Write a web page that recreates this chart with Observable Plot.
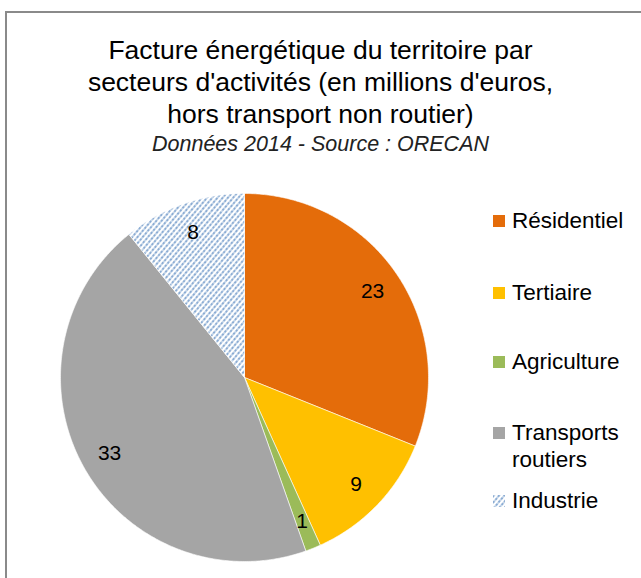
<!DOCTYPE html>
<html>
<head>
<meta charset="utf-8">
<script src="https://cdn.jsdelivr.net/npm/d3@7"></script>
<script src="https://cdn.jsdelivr.net/npm/@observablehq/plot@0.6"></script>
<style>
  html, body { margin: 0; padding: 0; background: #fff; }
  #wrap { position: relative; width: 641px; height: 578px; overflow: hidden;
          font-family: "Liberation Sans", Arial, sans-serif; color: #000; }
  #frame { position: absolute; left: 5px; top: 11px; width: 700px; height: 700px;
           border-top: 2px solid #8a8a8a; border-left: 2px solid #8a8a8a; }
  #title { position: absolute; left: 0; width: 641px; top: 34px; text-align: center;
           font-size: 26.5px; line-height: 32px; }
  #subtitle { position: absolute; left: 0; width: 641px; top: 132px; text-align: center;
              font-size: 21.5px; font-style: italic; color: #222; }
  #chart { position: absolute; left: 0; top: 0; }
  .leg { position: absolute; left: 493px; font-size: 22.5px; line-height: 27px; }
  .leg .sw { position: absolute; left: 0; width: 12px; height: 12px; top: 8px; }
  .leg .tx { position: absolute; left: 19px; white-space: nowrap; }
</style>
</head>
<body>
<div id="wrap">
  <div id="frame"></div>
  <div id="title">Facture énergétique du territoire par<br>secteurs d'activités (en millions d'euros,<br>hors transport non routier)</div>
  <div id="subtitle">Données 2014 - Source : ORECAN</div>
  <div id="chart"></div>
  <div id="legend"></div>
</div>
<script>
const sectors = ["Résidentiel", "Tertiaire", "Agriculture", "Transports routiers", "Industrie"];
const values = [23, 9, 1, 33, 8];
const colors = ["#E46C0A", "#FFC000", "#9BBB59", "#A5A5A5", "url(#hatch)"];
const legendLabels = ["Résidentiel", "Tertiaire", "Agriculture", "Transports<br>routiers", "Industrie"];

const data = sectors.map((s, i) => ({sector: s, value: values[i]}));
const arcs = d3.pie().sort(null).value(d => d.value)(data);

// polygon outlines of each slice in unit coordinates
const poly = [];
for (const a of arcs) {
  const s = a.data.sector;
  poly.push({sector: s, x: 0, y: 0});
  const n = Math.max(2, Math.ceil((a.endAngle - a.startAngle) / 0.01));
  for (let k = 0; k <= n; k++) {
    const t = a.startAngle + (a.endAngle - a.startAngle) * k / n;
    poly.push({sector: s, x: Math.sin(t), y: Math.cos(t)});
  }
  poly.push({sector: s, x: 0, y: 0});
}
const labels = arcs.map(a => {
  const m = (a.startAngle + a.endAngle) / 2;
  return {sector: a.data.sector, value: a.data.value, x: 0.84 * Math.sin(m), y: 0.84 * Math.cos(m)};
});

const cx = 244, cy = 377, R = 184;
const svg = Plot.plot({
  width: 641, height: 578, margin: 0,
  x: {domain: [-1, 1], range: [cx - R, cx + R], axis: null},
  y: {domain: [-1, 1], range: [cy + R, cy - R], axis: null},
  color: {domain: sectors, range: colors},
  marks: [
    Plot.line(poly, {x: "x", y: "y", z: "sector", fill: "sector", stroke: "white", strokeWidth: 0.6, curve: "linear"}),
    Plot.text(labels, {x: "x", y: "y", text: d => String(d.value), fontSize: 21, fill: "#000",
      fontFamily: "'Liberation Sans', Arial, sans-serif"})
  ],
  style: {background: "transparent", overflow: "visible"}
});
const defs = d3.select(svg).insert("defs", ":first-child");
const pat = defs.append("pattern").attr("id", "hatch").attr("patternUnits", "userSpaceOnUse")
  .attr("width", 4).attr("height", 4).attr("patternTransform", "rotate(40)");
pat.append("rect").attr("width", 4).attr("height", 4).attr("fill", "white");
pat.append("line").attr("x1", 1).attr("y1", 0).attr("x2", 1).attr("y2", 4)
  .attr("stroke", "#4F81BD").attr("stroke-width", 1.3).attr("stroke-dasharray", "2.5,1");
document.getElementById("chart").appendChild(svg);

// legend
const legTops = [207, 279, 348, 419, 487];
const leg = document.getElementById("legend");
sectors.forEach((s, i) => {
  const el = document.createElement("div");
  el.className = "leg";
  el.style.top = legTops[i] + "px";
  const sw = colors[i].startsWith("url")
    ? `<svg class="sw" width="12" height="12" style="position:absolute;left:0;top:8px"><defs><pattern id="hl" patternUnits="userSpaceOnUse" width="4" height="4" patternTransform="rotate(40)"><rect width="4" height="4" fill="white"/><line x1="1" y1="0" x2="1" y2="4" stroke="#4F81BD" stroke-width="1.3" stroke-dasharray="2.5,1"/></pattern></defs><rect width="12" height="12" fill="url(#hl)"/></svg>`
    : `<div class="sw" style="background:${colors[i]}"></div>`;
  el.innerHTML = sw + `<div class="tx">${legendLabels[i]}</div>`;
  leg.appendChild(el);
});
</script>
</body>
</html>
